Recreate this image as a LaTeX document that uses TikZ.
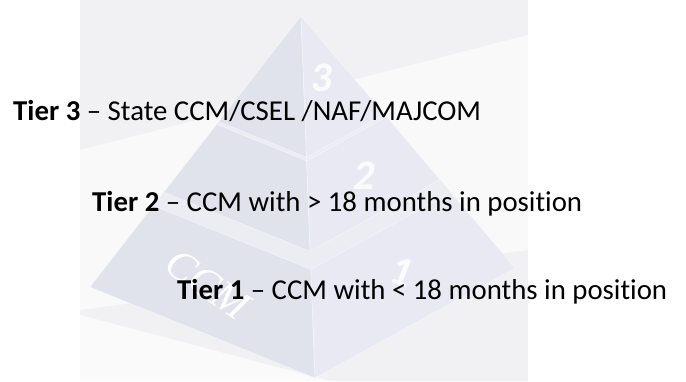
\documentclass[tikz,border=0pt]{standalone}
\usepackage{fontspec}
\setmainfont{Carlito}[Ligatures=NoCommon]
\newfontfamily\ccmfont{Liberation Serif}
\usepackage{tikz}

\definecolor{panel}{RGB}{241,241,244}
\definecolor{pyrbase}{RGB}{236,237,243}
\definecolor{faceleft}{RGB}{224,226,236}
\definecolor{faceright}{RGB}{232,233,242}

\begin{document}
\begin{tikzpicture}[x=1pt,y=-1pt,
  tiertext/.style={anchor=base west,inner sep=0pt,font=\fontsize{28.8}{34}\selectfont},
  tiernum/.style={text=white,text opacity=0.85,inner sep=0pt,font=\fontsize{42}{42}\selectfont\bfseries},
  leftface/.style={fill=faceleft,draw=white,draw opacity=0.5,line width=0.6pt},
  rightface/.style={fill=faceright,draw=white,draw opacity=0.5,line width=0.6pt}]
  \useasboundingbox (0,0) rectangle (686,381);
  \fill[white] (0,0) rectangle (686,381);

  \fill[panel] (80,0) rectangle (528,381);
  \fill[white,opacity=0.6] (80,150) -- (528,35) -- (528,250) -- (80,310) -- cycle;
  \fill[white,opacity=0.7] (80,315) -- (330,381) -- (80,381) -- cycle;

  \fill[pyrbase] (301,16) -- (515,268) -- (315,378) -- (90,287) -- cycle;

  \draw[leftface] (301,16) -- (306.5,157.2) -- (218.7,121.7) -- cycle;
  \draw[rightface] (301,16) -- (384.5,114.3) -- (306.5,157.2) -- cycle;

  \draw[leftface] (216.6,124.4) -- (306.6,160.8) -- (310.1,251.3) -- (163.9,192.2) -- cycle;
  \draw[rightface] (306.6,160.8) -- (386.6,116.8) -- (440.1,179.8) -- (310.1,251.3) -- cycle;

  \draw[leftface] (153.3,205.7) -- (310.8,269.4) -- (315,378) -- (90,287) -- cycle;
  \draw[rightface] (310.8,269.4) -- (450.8,192.4) -- (515,268) -- (315,378) -- cycle;

  \node[tiernum,xslant=0.1] (num3) at (323,78) {3};
  \node[tiernum,xslant=0.15] (num2) at (365,176) {2};
  \node[tiernum,rotate=-22] (num1) at (402,272) {1};
  \node[text=white,rotate=-35,inner sep=0pt,
    font=\fontsize{42}{42}\selectfont\ccmfont\itshape] (ccmmark) at (208,284) {CCM};

  \node[tiertext] (tier3) at (13,120) {\textbf{Tier 3} -- State CCM/CSEL /NAF/MAJCOM};
  \node[tiertext] (tier2) at (92,211) {\textbf{Tier 2} -- CCM with > 18 months in position};
  \node[tiertext] (tier1) at (177,299) {\textbf{Tier 1} -- CCM with < 18 months in position};
\end{tikzpicture}
\end{document}
